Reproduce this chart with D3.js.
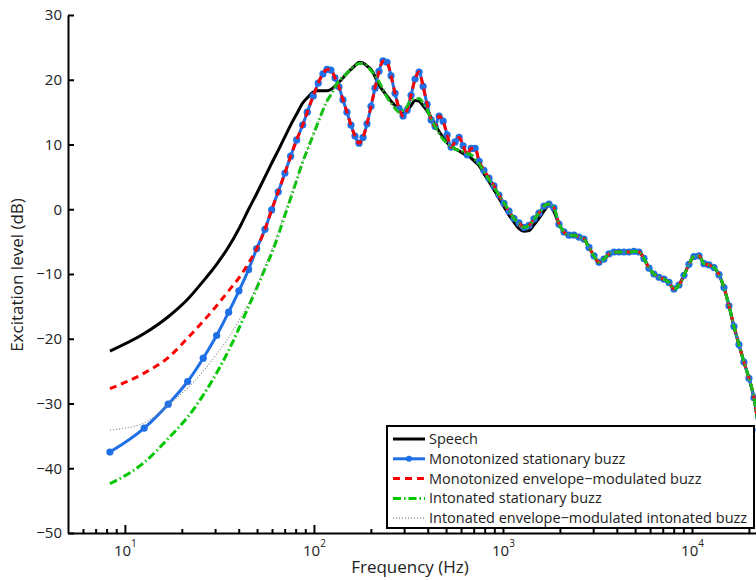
<!DOCTYPE html>
<html><head><meta charset="utf-8">
<script src="https://cdn.jsdelivr.net/npm/d3@7"></script>
<style>
body{margin:0;background:#fff}
svg{display:block}
text{font-family:"Open Sans",sans-serif;fill:#222}
</style>
</head><body>
<svg id="chart" width="756" height="580"></svg>
<script>
// ---------- DATA ----------
const freqHz = [
  8.33, 12.65, 16.95, 21.47, 25.96, 30.56, 35.38, 40.11, 45.13, 49.76,
  55.06, 59.74, 64.73, 70.23, 75.28, 81.0, 87.14, 92.15, 99.15, 105.4,
  111.6, 117.2, 123.0, 129.2, 135.6, 142.4, 149.5, 157.0, 164.9, 173.1,
  181.8, 190.9, 200.4, 210.4, 220.9, 232.0, 243.6, 255.8, 268.6, 282.0,
  296.1, 310.9, 326.4, 342.7, 359.9, 377.9, 396.8, 416.6, 437.4, 459.3,
  482.3, 506.4, 531.7, 558.3, 586.2, 615.5, 646.3, 678.6, 712.5, 748.1,
  793, 843, 896, 952, 1012, 1076, 1143, 1215, 1291, 1372,
  1459, 1550, 1648, 1751, 1861, 1978, 2102, 2234, 2375, 2524,
  2682, 2851, 3030, 3220, 3422, 3637, 3865, 4108, 4366, 4640,
  4931, 5241, 5570, 5920, 6291, 6686, 7106, 7552, 8026, 8530,
  9066, 9635, 10240, 10883, 11566, 12292, 13064, 13884, 14756, 15682,
  16667, 17713, 18825, 20007, 21263, 22598
];
const speechDb = [
  -21.9, -19.2, -16.6, -13.9, -11.1, -8.5, -5.8, -3.0, 0.0, 2.4,
  5.0, 7.1, 9.1, 11.2, 13.0, 14.7, 16.4, 17.2, 18.1, 18.3,
  18.3, 18.3, 18.5, 19.0, 19.6, 20.3, 21.0, 21.6, 22.2, 22.7,
  22.6, 22.1, 21.6, 20.5, 19.2, 18.3, 17.5, 16.7, 16.0, 15.3,
  14.8, 15.2, 16.0, 16.8, 16.7, 16.0, 15.2, 14.2, 13.1, 12.0,
  11.1, 10.3, 9.6, 9.3, 9.0, 8.6, 8.3, 7.9, 7.3, 6.7,
  5.5, 4.3, 3.0, 1.7, 0.4, -0.9, -2.0, -3.0, -3.4, -3.3,
  -2.4, -1.4, -0.3, 0.6, -0.4, -2.3, -3.5, -4.0, -4.0, -4.3,
  -4.6, -5.9, -7.2, -8.2, -7.7, -6.9, -6.6, -6.6, -6.6, -6.6,
  -6.5, -6.6, -7.6, -9.1, -10.0, -10.5, -10.8, -11.3, -12.3, -11.7,
  -10.2, -8.5, -7.3, -7.2, -8.4, -8.6, -9.0, -10.1, -12.1, -14.9,
  -18.1, -20.9, -23.6, -26.1, -29.1, -34.1
];
const monoStationaryDb = [
  -37.5, -33.8, -30.1, -26.6, -23.0, -19.5, -15.9, -12.6, -9.3, -6.1,
  -3.1, -0.1, 2.7, 5.6, 8.2, 10.7, 13.0, 15.0, 17.5, 19.5,
  20.9, 21.6, 21.5, 20.3, 18.9, 16.9, 15.0, 13.0, 11.3, 10.2,
  11.1, 13.2, 15.9, 18.7, 21.3, 22.9, 22.7, 20.6, 17.9, 15.6,
  14.4, 15.3, 17.6, 20.1, 21.2, 19.0, 16.2, 13.8, 12.8, 14.4,
  13.6, 11.5, 9.6, 10.4, 11.1, 9.8, 8.4, 9.4, 9.4, 7.4,
  6.0, 4.8, 3.6, 2.2, 0.9, -0.3, -1.4, -2.1, -2.8, -2.5,
  -1.5, -0.6, 0.5, 0.8, 0.2, -2.3, -3.5, -4.0, -4.0, -4.3,
  -4.6, -5.9, -7.2, -8.2, -7.7, -6.9, -6.6, -6.6, -6.6, -6.6,
  -6.5, -6.6, -7.6, -9.1, -10.0, -10.5, -10.8, -11.3, -12.3, -11.7,
  -10.2, -8.5, -7.3, -7.2, -8.4, -8.6, -9.0, -10.1, -12.1, -14.9,
  -18.1, -20.9, -23.6, -26.1, -29.1, -34.1
];
// envelope-modulated versions differ only at the low end; beyond, they follow the stationary curves
const monoEnvLowDb = [-27.7, -25.3, -22.9, -19.9, -17.3, -14.9, -12.6, -10.6, -8.3];
const intonStationaryDb = [
  -42.4, -39.1, -35.4, -32.1, -28.7, -25.3, -21.8, -18.4, -15.0, -12.2,
  -9.2, -6.8, -4.0, -0.9, 1.7, 4.5, 7.3, 9.1, 11.5, 13.5,
  15.3, 16.7, 17.7, 18.9, 19.8, 20.4, 21.0, 21.7, 22.2, 22.5,
  22.5, 22.2, 21.4, 20.6, 19.7, 18.5, 17.3, 16.4, 15.6, 15.0,
  15.3, 15.9, 16.9, 17.0, 17.1, 16.4, 15.4, 14.0, 12.8, 11.7,
  10.8, 10.2, 9.7, 9.3, 9.1, 8.9, 8.6, 8.4, 7.7, 7.0,
  5.8, 4.6, 3.4, 2.2, 1.0, -0.2, -1.4, -2.2, -2.8, -2.5,
  -1.5, -0.6, 0.5, 0.8, 0.2, -2.3, -3.5, -4.0, -4.0, -4.3,
  -4.6, -5.9, -7.2, -8.2, -7.7, -6.9, -6.6, -6.6, -6.6, -6.6,
  -6.5, -6.6, -7.6, -9.1, -10.0, -10.5, -10.8, -11.3, -12.3, -11.7,
  -10.2, -8.5, -7.3, -7.2, -8.4, -8.6, -9.0, -10.1, -12.1, -14.9,
  -18.1, -20.9, -23.6, -26.1, -29.1, -34.1
];
const intonEnvLowDb = [-34.1, -33.0, -30.2, -27.6, -25.0, -22.4, -19.8, -17.2, -14.5, -11.8, -8.8, -6.3, -3.5, -0.5, 2.1];

const yTicks = [-50, -40, -30, -20, -10, 0, 10, 20, 30];
const xMajorTicks = [10, 100, 1000, 10000];
const xMajorExp = ["1", "2", "3", "4"];
const legendLabels = [
  "Speech",
  "Monotonized stationary buzz",
  "Monotonized envelope\u2212modulated buzz",
  "Intonated stationary buzz",
  "Intonated envelope\u2212modulated intonated buzz"
];

// ---------- CHART ----------
const svg = d3.select("#chart");
const x = d3.scaleLog().domain([5, 21800]).range([68, 756]);
const y = d3.scaleLinear().domain([-50, 30]).range([533, 15]);

const zip = vals => freqHz.map((f, i) => [f, vals[i]]);
const monoEnvDb = monoEnvLowDb.concat(monoStationaryDb.slice(monoEnvLowDb.length));
const intonEnvDb = intonEnvLowDb.concat(intonStationaryDb.slice(intonEnvLowDb.length));

const styles = [
  {vals: speechDb, color: "#000000", width: 3, dash: null},
  {vals: monoStationaryDb, color: "#1f6fe6", width: 3, dash: null, marker: true},
  {vals: monoEnvDb, color: "#ff0000", width: 3, dash: "7,5"},
  {vals: intonStationaryDb, color: "#00c800", width: 3, dash: "8,3,1.5,3"},
  {vals: intonEnvDb, color: "#8a8a8a", width: 1.2, dash: "1,2"}
];

svg.append("defs").append("clipPath").attr("id", "plotclip")
  .append("rect").attr("x", 68).attr("y", 0).attr("width", 700).attr("height", 533);

const line = d3.line().x(d => x(d[0])).y(d => y(d[1])).curve(d3.curveMonotoneX);
const plot = svg.append("g").attr("clip-path", "url(#plotclip)");

styles.forEach(s => {
  const pts = zip(s.vals);
  plot.append("path").datum(pts)
    .attr("d", line).attr("fill", "none")
    .attr("stroke", s.color).attr("stroke-width", s.width)
    .attr("stroke-linejoin", "round")
    .attr("stroke-dasharray", s.dash);
  if (s.marker) {
    plot.append("g").selectAll("circle").data(pts).join("circle")
      .attr("cx", d => x(d[0])).attr("cy", d => y(d[1]))
      .attr("r", 3.6).attr("fill", s.color);
  }
});

// Axes
const yAxis = svg.append("g").attr("transform", "translate(68,0)")
  .call(d3.axisLeft(y).tickValues(yTicks).tickSize(-6).tickSizeOuter(0)
    .tickFormat(d => d < 0 ? "\u2212" + Math.abs(d) : String(d)));
yAxis.selectAll("text").attr("font-size", 15).attr("x", -6)
  .attr("font-family", "'Open Sans',sans-serif").attr("fill", "#222");

const minorTicks = x.ticks().filter(t => !xMajorTicks.includes(t) && t > 5);
const xMinor = svg.append("g").attr("transform", "translate(0,533)")
  .call(d3.axisBottom(x).tickValues(minorTicks).tickSize(-4).tickSizeOuter(0).tickFormat(""));
const xAxis = svg.append("g").attr("transform", "translate(0,533)")
  .call(d3.axisBottom(x).tickValues(xMajorTicks).tickSize(-8).tickSizeOuter(0).tickFormat(""));

xAxis.selectAll(".tick").each(function(d, i) {
  const t = d3.select(this).append("text").attr("y", 23).attr("text-anchor", "middle")
    .attr("font-size", 15).attr("fill", "#222").attr("font-family", "'Open Sans',sans-serif");
  t.append("tspan").text("10");
  t.append("tspan").attr("dy", -9).attr("font-size", 10).text(xMajorExp[i]);
});

[yAxis, xAxis, xMinor].forEach(g => {
  g.selectAll("path, line").attr("stroke", "#000").attr("stroke-width", 2);
});
xMinor.select(".domain").remove();

// Axis titles
svg.append("text").attr("x", 410).attr("y", 573).attr("text-anchor", "middle")
  .attr("font-size", 17).text("Frequency (Hz)");
svg.append("text").attr("transform", "translate(23,275) rotate(-90)").attr("text-anchor", "middle")
  .attr("font-size", 17).text("Excitation level (dB)");

// Legend
const lg = svg.append("g");
lg.append("rect").attr("x", 387).attr("y", 426).attr("width", 367).attr("height", 102)
  .attr("fill", "#fff").attr("stroke", "#000").attr("stroke-width", 2);
legendLabels.forEach((lab, i) => {
  const cy = 439 + i * 19.8;
  const s = styles[i];
  lg.append("line").attr("x1", 393).attr("x2", 425).attr("y1", cy).attr("y2", cy)
    .attr("stroke", s.color).attr("stroke-width", s.width).attr("stroke-dasharray", s.dash);
  if (s.marker) lg.append("circle").attr("cx", 409).attr("cy", cy).attr("r", 3).attr("fill", s.color);
  lg.append("text").attr("x", 429).attr("y", cy + 5).attr("font-size", 14.5).text(lab);
});
</script>
</body></html>
